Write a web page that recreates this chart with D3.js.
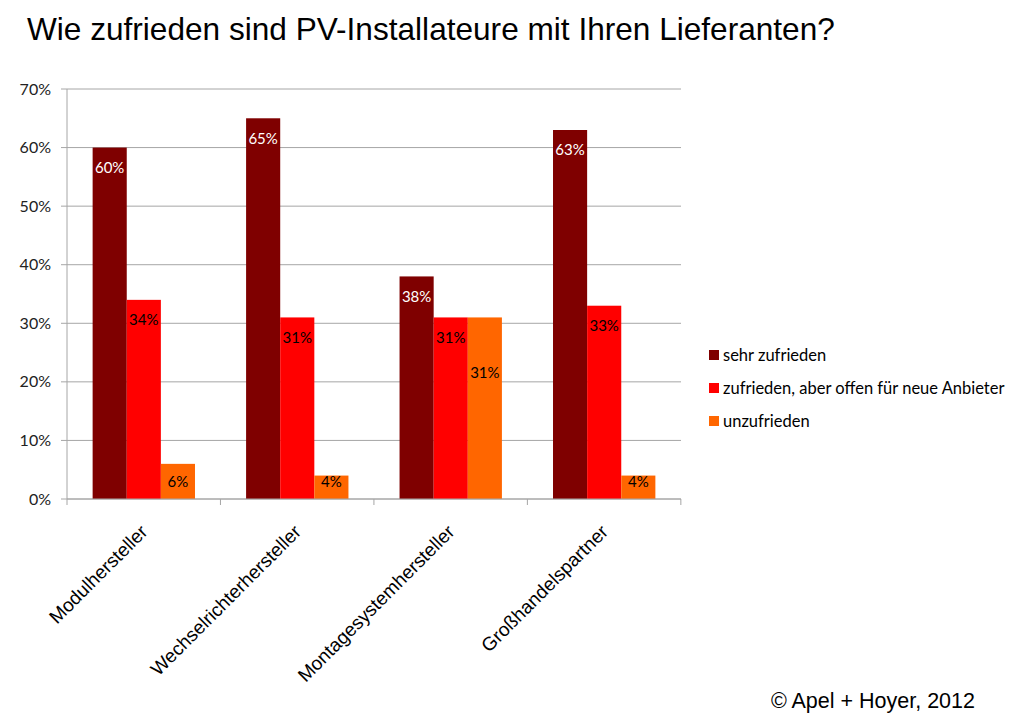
<!DOCTYPE html>
<html>
<head>
<meta charset="utf-8">
<script src="https://cdn.jsdelivr.net/npm/d3@7"></script>
<style>
  body { margin: 0; background: #fff; }
</style>
</head>
<body>
<div id="chart"></div>
<script>
// data
const categories = ["Modulhersteller", "Wechselrichterhersteller", "Montagesystemhersteller", "Großhandelspartner"];
const seriesNames = ["sehr zufrieden", "zufrieden, aber offen für neue Anbieter", "unzufrieden"];
const sehrZufrieden = [60, 65, 38, 63];
const zufriedenOffen = [34, 31, 31, 33];
const unzufrieden = [6, 4, 31, 4];
const yTicks = [0, 10, 20, 30, 40, 50, 60, 70];

const colors = ["#7f0000", "#ff0000", "#ff6600"];
const labelColors = ["#ffffff", "#000000", "#000000"];
const seriesValues = [sehrZufrieden, zufriedenOffen, unzufrieden];

const W = 1024, H = 720;
const margin = { top: 89, left: 67, right: 343, bottom: 221 };
const width = W - margin.left - margin.right;
const height = H - margin.top - margin.bottom;

const svg = d3.select("#chart").append("svg")
  .attr("width", W)
  .attr("height", H);

// title
svg.append("text")
  .attr("x", 27)
  .attr("y", 40)
  .style("font-family", "Liberation Sans, Arial, sans-serif")
  .style("font-size", "31.6px")
  .text("Wie zufrieden sind PV-Installateure mit Ihren Lieferanten?");

const g = svg.append("g")
  .attr("transform", `translate(${margin.left},${margin.top})`);

const x0 = d3.scaleBand().domain(categories).range([0, width]).paddingInner(0.333).paddingOuter(0.167);
const x1 = d3.scaleBand().domain(d3.range(seriesNames.length)).range([0, x0.bandwidth()]);
const y = d3.scaleLinear().domain([0, 70]).range([height, 0]);

// gridlines
g.append("g")
  .selectAll("line")
  .data(yTicks)
  .join("line")
  .attr("x1", -6)
  .attr("x2", width)
  .attr("y1", d => y(d))
  .attr("y2", d => y(d))
  .attr("stroke", "#a6a6a6")
  .attr("stroke-width", 1);

// y axis labels
g.append("g")
  .selectAll("text")
  .data(yTicks)
  .join("text")
  .attr("x", -16)
  .attr("y", d => y(d))
  .attr("dy", "0.35em")
  .attr("text-anchor", "end")
  .style("font-family", "Lato, Open Sans, sans-serif")
  .style("font-size", "16px")
  .style("fill", "#222")
  .text(d => d + "%");

// y axis line
g.append("line")
  .attr("x1", 0).attr("x2", 0)
  .attr("y1", 0).attr("y2", height)
  .attr("stroke", "#a6a6a6");

// bars
const groups = g.selectAll(".grp")
  .data(categories)
  .join("g")
  .attr("class", "grp")
  .attr("transform", d => `translate(${x0(d)},0)`);

groups.each(function(cat, ci) {
  const grp = d3.select(this);
  const vals = seriesValues.map(s => s[ci]);
  let prevLabelY = null;
  vals.forEach((v, si) => {
    grp.append("rect")
      .attr("x", x1(si))
      .attr("y", y(v))
      .attr("width", x1.bandwidth())
      .attr("height", height - y(v))
      .attr("fill", colors[si]);
    let ly = Math.min(y(v) + 20, height - 17);
    // push label down if it would collide with the neighbouring label
    if (prevLabelY !== null && Math.abs(ly - prevLabelY) < 18) ly = prevLabelY + 35;
    prevLabelY = ly;
    grp.append("text")
      .attr("x", x1(si) + x1.bandwidth() / 2)
      .attr("y", ly)
      .attr("dy", "0.35em")
      .attr("text-anchor", "middle")
      .style("font-family", "Lato, Open Sans, sans-serif")
      .style("font-size", "15px")
      .style("fill", labelColors[si])
      .text(v + "%");
  });
});

// x axis
const xAxis = g.append("g").attr("transform", `translate(0,${height})`);
xAxis.append("line")
  .attr("x1", 0).attr("x2", width)
  .attr("stroke", "#a6a6a6");
const step = x0.step();
xAxis.selectAll(".tk")
  .data(d3.range(categories.length + 1))
  .join("line")
  .attr("class", "tk")
  .attr("x1", d => d * step)
  .attr("x2", d => d * step)
  .attr("y1", 0).attr("y2", 6)
  .attr("stroke", "#a6a6a6");

xAxis.selectAll(".cat")
  .data(categories)
  .join("text")
  .attr("class", "cat")
  .attr("transform", d => `translate(${x0(d) + x0.bandwidth() / 2 + 5},${34}) rotate(-45)`)
  .attr("text-anchor", "end")
  .style("font-family", "Liberation Sans, Arial, sans-serif")
  .style("font-size", "19px")
  .text(d => d);

// legend
const legend = svg.append("g").attr("transform", "translate(709,355)");
seriesNames.forEach((name, i) => {
  const row = legend.append("g").attr("transform", `translate(0,${i * 33})`);
  row.append("rect")
    .attr("x", 0).attr("y", -5)
    .attr("width", 10).attr("height", 10)
    .attr("fill", colors[i]);
  row.append("text")
    .attr("x", 14)
    .attr("y", 0)
    .attr("dy", "0.35em")
    .style("font-family", "Lato, Open Sans, sans-serif")
    .style("font-size", "16.5px")
    .text(name);
});

// footer
svg.append("text")
  .attr("x", 975)
  .attr("y", 708)
  .attr("text-anchor", "end")
  .style("font-family", "Liberation Sans, Arial, sans-serif")
  .style("font-size", "21.5px")
  .text("© Apel + Hoyer, 2012");
</script>
</body>
</html>
